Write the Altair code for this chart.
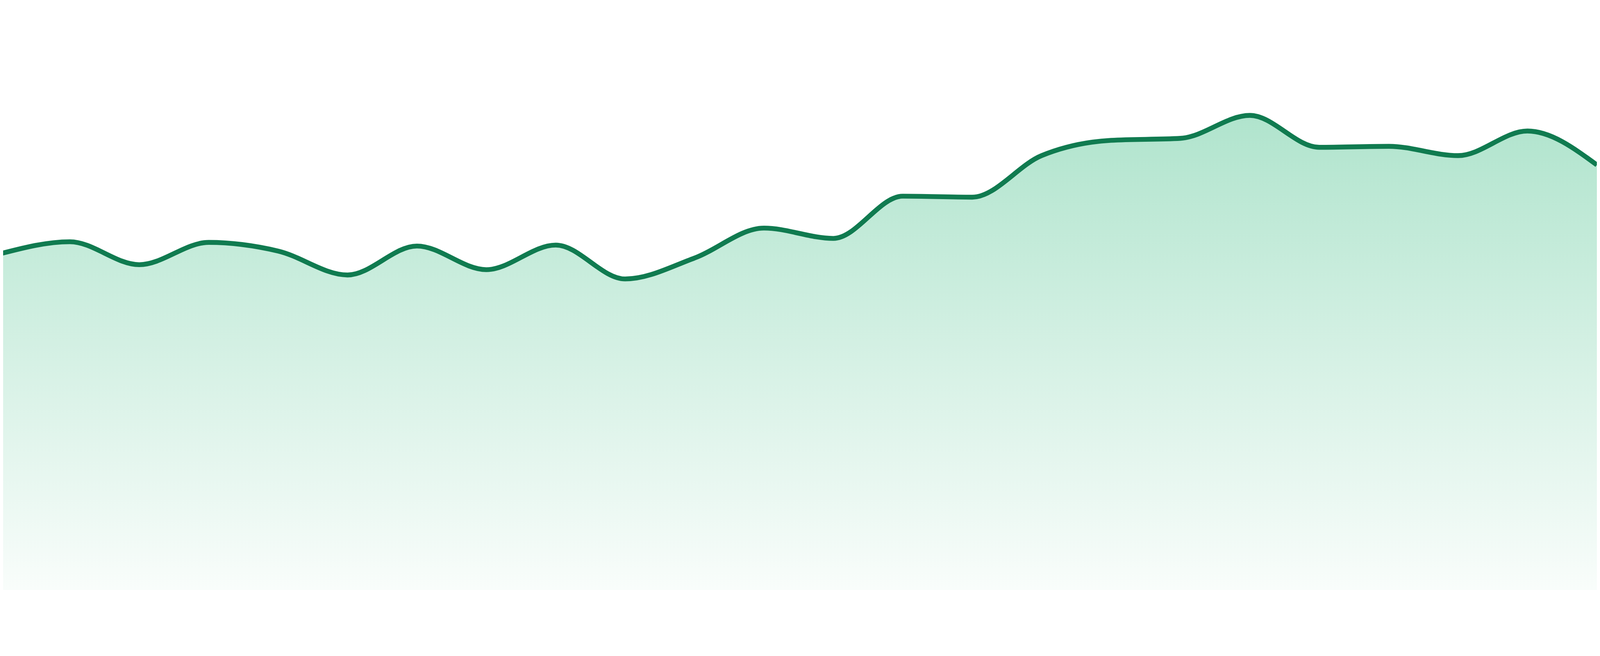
import altair as alt
import pandas as pd

# Series (index along x, value above baseline)
idx = list(range(24))
values = [1012, 1048, 979, 1046, 1020, 948, 1035, 964, 1038, 936, 999, 1089,
          1058, 1185, 1182, 1307, 1353, 1359, 1428, 1332, 1335, 1307, 1381, 1279]

df = pd.DataFrame({"i": idx, "v": values})

x_enc = alt.X("i:Q", axis=None,
              scale=alt.Scale(domain=[0.0383, 23], nice=False, zero=False))
y_enc = alt.Y("v:Q", axis=None,
              scale=alt.Scale(domain=[0, 1624], nice=False, zero=True))

area = alt.Chart(df).mark_area(
    interpolate="monotone",
    clip=True,
    color=alt.Gradient(
        gradient="linear",
        stops=[alt.GradientStop(color="#b0e4cd", offset=0),
               alt.GradientStop(color="#f9fdfb", offset=1)],
        x1=1, x2=1, y1=0, y2=1,
    ),
).encode(x=x_enc, y=y_enc)

line = alt.Chart(df).mark_line(
    interpolate="monotone",
    clip=True,
    color="#107b50",
    strokeWidth=14.5,
).encode(x=x_enc, y=y_enc)

chart = alt.layer(area, line).properties(
    width=4792, height=1624, padding=0, background="white"
).configure_view(stroke=None)

chart.save("out.html", embed_options={"renderer": "svg", "actions": False})
